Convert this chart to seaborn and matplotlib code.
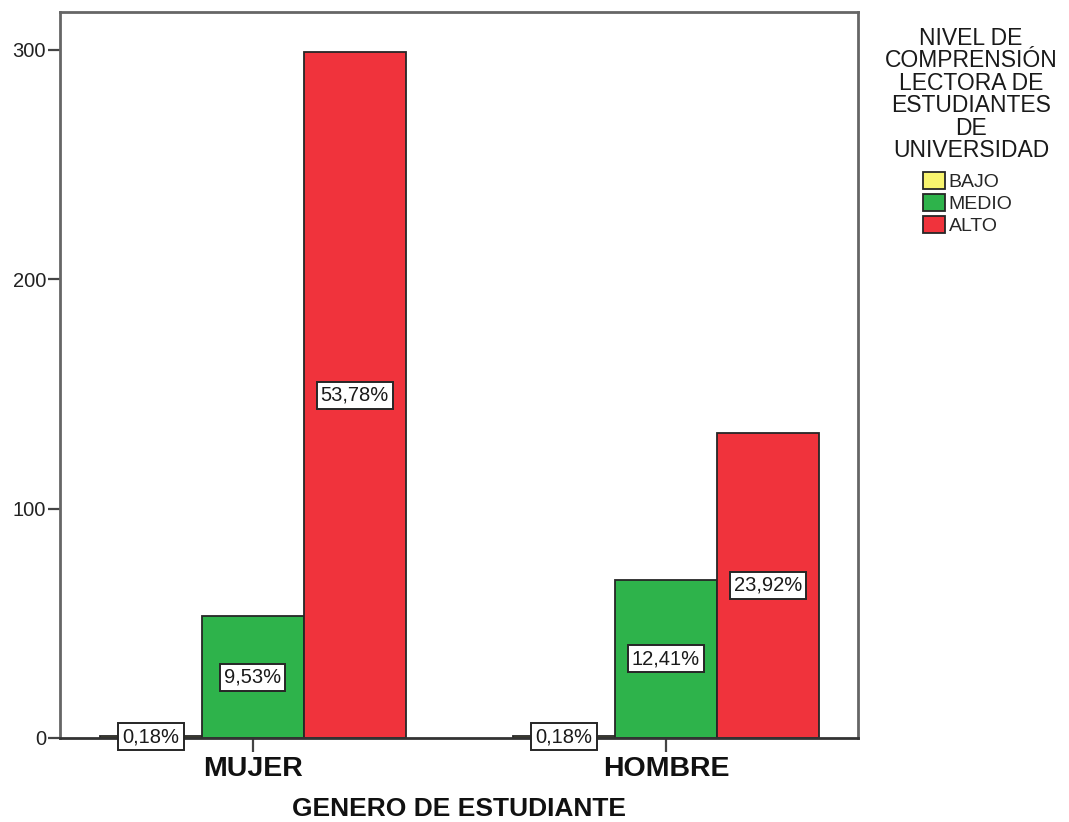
import matplotlib
matplotlib.use("Agg")
import matplotlib.pyplot as plt
import seaborn as sns
import pandas as pd

# Student counts by gender and reading comprehension level
generos = ["MUJER", "HOMBRE"]
niveles = ["BAJO", "MEDIO", "ALTO"]
conteo_mujer = [1, 53, 299]
conteo_hombre = [1, 69, 133]
colores = ["#F8F46E", "#2EB34B", "#F0333C"]
yticks = [0, 100, 200, 300]
titulo_leyenda = "NIVEL DE\nCOMPRENSIÓN\nLECTORA DE\nESTUDIANTES\nDE\nUNIVERSIDAD"

filas = []
for genero, valores in zip(generos, [conteo_mujer, conteo_hombre]):
    for nivel, v in zip(niveles, valores):
        filas.append({"genero": genero, "nivel": nivel, "conteo": v})
df = pd.DataFrame(filas)
total = df["conteo"].sum()

sns.set_style("white")
plt.rcParams["font.family"] = ["Liberation Sans", "DejaVu Sans"]

fig = plt.figure(figsize=(10.69, 8.22), dpi=100)
ax = fig.add_axes([0.0561, 0.1022, 0.7465, 0.8832])

sns.barplot(
    data=df, x="genero", y="conteo", hue="nivel",
    order=generos, hue_order=niveles, palette=colores,
    width=0.74, edgecolor="#262626", linewidth=1.3,
    saturation=1.0, ax=ax, errorbar=None,
)

# Percent-of-total labels centred in each bar
for cont, nivel in zip(ax.containers, niveles):
    vals = df[df["nivel"] == nivel].set_index("genero").loc[generos, "conteo"]
    etiquetas = [f"{v / total * 100:.2f}%".replace(".", ",") for v in vals]
    ax.bar_label(
        cont, labels=etiquetas, label_type="center", fontsize=14.5,
        color="#1a1a1a",
        bbox=dict(boxstyle="square,pad=0.2", facecolor="white",
                  edgecolor="#262626", linewidth=1.4),
    )

ax.set_ylim(0, 316.5)
ax.set_xlim(-0.467, 1.465)
ax.set_yticks(yticks)
ax.set_yticklabels([str(t) for t in yticks], fontsize=14.5, color="#222222")
ax.set_xticks(range(len(generos)))
ax.set_xticklabels(generos, fontsize=20.5, fontweight="bold", color="#111111")
ax.tick_params(axis="y", direction="out", length=9, width=1.6, color="#444444", pad=1, left=True)
ax.tick_params(axis="x", direction="out", length=10, width=1.6, color="#444444", pad=3, bottom=True)

ax.set_ylabel("")
ax.set_xlabel("GENERO DE ESTUDIANTE", fontsize=19, fontweight="bold",
              color="#111111", labelpad=11)

for s in ax.spines.values():
    s.set_visible(True)
    s.set_color("#666666")
    s.set_linewidth(2.0)
ax.spines["bottom"].set_color("#333333")

# Legend: centred multi-line heading above the colour keys
fig.text(971 / 1069, 1 - 27 / 822, titulo_leyenda, ha="center", va="top",
         multialignment="center", fontsize=16.5, linespacing=0.97,
         color="#1a1a1a")
leg = ax.legend(
    loc="upper center", bbox_to_anchor=(968 / 1069, 1 - 172 / 822),
    bbox_transform=fig.transFigure, frameon=False,
    fontsize=14, handlelength=1.1, handleheight=1.0,
    handletextpad=0.2, labelspacing=0.13, borderaxespad=0.0, borderpad=0.0,
)
for h in leg.legend_handles:
    h.set_edgecolor("#262626")
    h.set_linewidth(1.3)

fig.savefig("out.png", dpi=100)
